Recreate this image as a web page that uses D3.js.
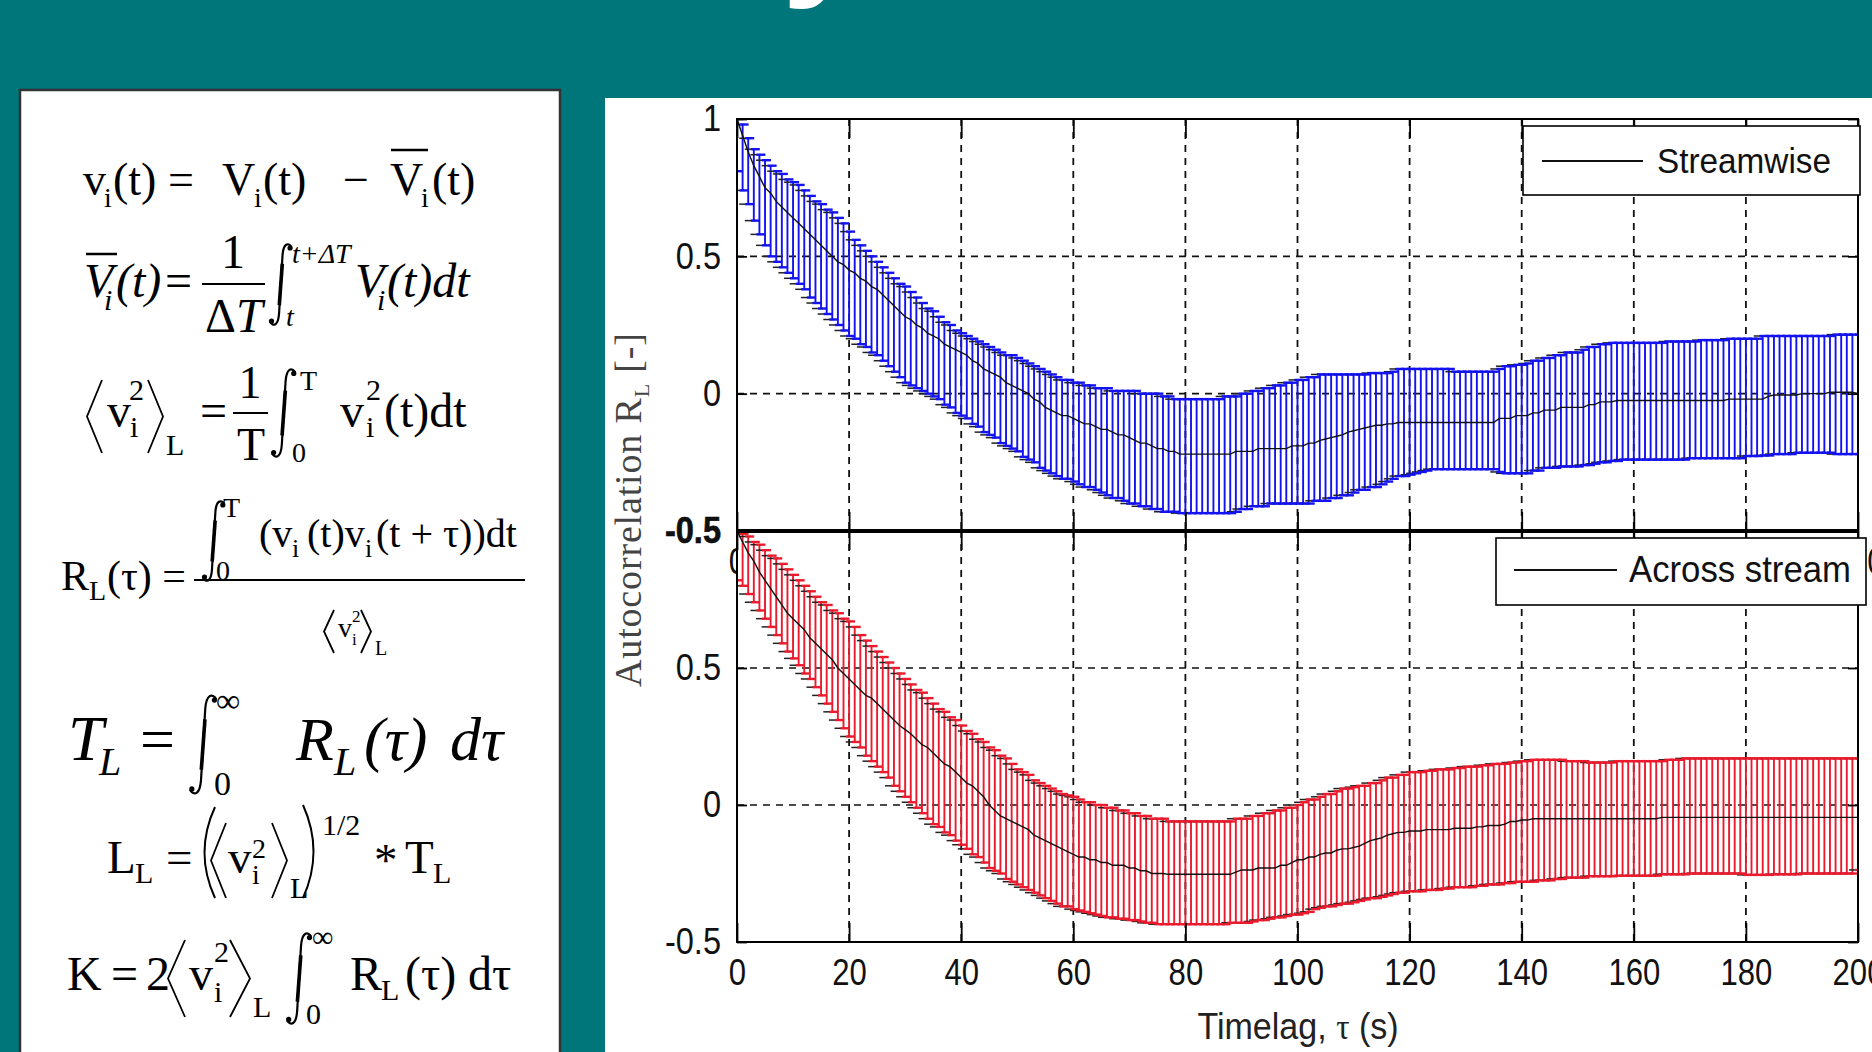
<!DOCTYPE html>
<html><head><meta charset="utf-8">
<script src="https://cdn.jsdelivr.net/npm/d3@7"></script>
<style>
html,body{margin:0;padding:0;background:#00767a;overflow:hidden}
svg{display:block}
</style></head><body>
<svg id="c" width="1872" height="1052"></svg>
<script>
// ---------------- DATA ----------------
const tau = d3.range(0, 201, 1); // time lag samples (s)
const xTicks = [0,20,40,60,80,100,120,140,160,180,200];
const yTicksTop = [-0.5,0,0.5,1];
const yTicksBottom = [-0.5,0,0.5];
const seriesNames = ["Streamwise","Across stream"];

const streamUpper = [1.00,0.98,0.93,0.89,0.87,0.85,0.83,0.81,0.80,0.78,
0.77,0.76,0.74,0.72,0.70,0.69,0.67,0.66,0.64,0.62,
0.59,0.56,0.54,0.52,0.50,0.48,0.46,0.44,0.42,0.40,
0.39,0.37,0.35,0.33,0.31,0.30,0.28,0.26,0.25,0.23,
0.22,0.21,0.20,0.19,0.18,0.17,0.16,0.15,0.14,0.14,
0.13,0.12,0.11,0.10,0.09,0.08,0.07,0.06,0.05,0.05,
0.04,0.04,0.03,0.03,0.02,0.02,0.02,0.01,0.01,0.01,
0.01,0.01,0.00,0.00,0.00,0.00,-0.01,-0.01,-0.02,-0.02,
-0.02,-0.02,-0.02,-0.02,-0.02,-0.02,-0.02,-0.01,-0.01,-0.01,
0.00,0.00,0.01,0.01,0.02,0.02,0.03,0.03,0.04,0.04,
0.05,0.05,0.06,0.06,0.07,0.07,0.07,0.07,0.07,0.07,
0.07,0.07,0.07,0.075,0.075,0.075,0.075,0.08,0.09,0.09,
0.09,0.09,0.09,0.09,0.09,0.09,0.09,0.09,0.08,0.08,
0.08,0.08,0.08,0.08,0.08,0.08,0.09,0.10,0.10,0.105,
0.105,0.11,0.12,0.12,0.13,0.13,0.14,0.14,0.15,0.15,
0.15,0.16,0.17,0.17,0.18,0.18,0.185,0.185,0.185,0.185,
0.185,0.185,0.185,0.185,0.185,0.185,0.19,0.19,0.19,0.19,
0.19,0.19,0.195,0.195,0.195,0.195,0.195,0.20,0.20,0.20,
0.20,0.20,0.20,0.21,0.21,0.21,0.21,0.21,0.21,0.21,
0.21,0.21,0.21,0.21,0.21,0.21,0.215,0.215,0.215,0.215,
0.215];

const streamMean = [1.00,0.94,0.88,0.83,0.79,0.75,0.73,0.70,0.68,0.66,
0.64,0.62,0.60,0.58,0.56,0.54,0.52,0.50,0.48,0.47,
0.45,0.44,0.42,0.41,0.39,0.38,0.36,0.34,0.32,0.30,
0.28,0.27,0.25,0.24,0.22,0.21,0.20,0.18,0.17,0.16,
0.15,0.14,0.12,0.11,0.09,0.08,0.07,0.06,0.04,0.03,
0.02,0.01,0.00,-0.02,-0.03,-0.05,-0.06,-0.07,-0.08,-0.08,
-0.09,-0.10,-0.11,-0.11,-0.12,-0.13,-0.13,-0.14,-0.15,-0.15,
-0.16,-0.17,-0.18,-0.18,-0.19,-0.20,-0.20,-0.21,-0.21,-0.22,
-0.22,-0.22,-0.22,-0.22,-0.22,-0.22,-0.22,-0.22,-0.22,-0.21,
-0.21,-0.21,-0.21,-0.20,-0.20,-0.20,-0.20,-0.20,-0.20,-0.19,
-0.19,-0.19,-0.18,-0.18,-0.17,-0.165,-0.16,-0.155,-0.15,-0.14,
-0.135,-0.13,-0.125,-0.12,-0.115,-0.115,-0.11,-0.11,-0.105,-0.105,
-0.105,-0.105,-0.105,-0.105,-0.105,-0.105,-0.105,-0.105,-0.105,-0.105,
-0.105,-0.105,-0.105,-0.105,-0.105,-0.105,-0.09,-0.09,-0.09,-0.08,
-0.08,-0.08,-0.07,-0.07,-0.06,-0.06,-0.06,-0.05,-0.05,-0.05,
-0.05,-0.05,-0.04,-0.04,-0.03,-0.03,-0.03,-0.025,-0.025,-0.025,
-0.025,-0.025,-0.025,-0.025,-0.025,-0.025,-0.025,-0.025,-0.025,-0.025,
-0.025,-0.025,-0.025,-0.025,-0.025,-0.025,-0.025,-0.02,-0.02,-0.02,
-0.02,-0.02,-0.02,-0.02,-0.01,-0.005,-0.005,-0.005,-0.005,-0.005,
0.00,0.00,0.00,0.00,0.00,0.005,0.005,0.005,0.005,0.005,
0.00];

const streamLower = [0.81,0.74,0.69,0.63,0.58,0.54,0.50,0.48,0.46,0.44,
0.42,0.40,0.38,0.35,0.33,0.31,0.29,0.27,0.25,0.23,
0.21,0.20,0.18,0.17,0.15,0.14,0.12,0.10,0.08,0.06,
0.04,0.03,0.02,0.01,0.00,-0.01,-0.02,-0.04,-0.05,-0.07,
-0.08,-0.09,-0.11,-0.12,-0.14,-0.15,-0.16,-0.18,-0.19,-0.20,
-0.21,-0.23,-0.24,-0.25,-0.27,-0.28,-0.29,-0.30,-0.31,-0.31,
-0.32,-0.33,-0.34,-0.34,-0.35,-0.36,-0.37,-0.38,-0.38,-0.39,
-0.40,-0.40,-0.41,-0.41,-0.42,-0.42,-0.43,-0.43,-0.43,-0.435,
-0.435,-0.435,-0.435,-0.435,-0.435,-0.435,-0.435,-0.435,-0.435,-0.43,
-0.42,-0.42,-0.41,-0.41,-0.41,-0.40,-0.40,-0.40,-0.40,-0.40,
-0.40,-0.40,-0.40,-0.39,-0.39,-0.39,-0.38,-0.38,-0.37,-0.37,
-0.36,-0.35,-0.35,-0.34,-0.34,-0.33,-0.32,-0.31,-0.30,-0.30,
-0.295,-0.29,-0.285,-0.28,-0.275,-0.275,-0.275,-0.275,-0.275,-0.275,
-0.275,-0.275,-0.275,-0.275,-0.275,-0.275,-0.285,-0.29,-0.29,-0.29,
-0.29,-0.29,-0.28,-0.28,-0.27,-0.27,-0.27,-0.265,-0.265,-0.265,
-0.265,-0.26,-0.26,-0.255,-0.25,-0.25,-0.245,-0.245,-0.24,-0.24,
-0.24,-0.24,-0.24,-0.24,-0.24,-0.24,-0.24,-0.24,-0.24,-0.24,
-0.235,-0.235,-0.235,-0.235,-0.235,-0.235,-0.235,-0.235,-0.235,-0.235,
-0.227,-0.227,-0.227,-0.225,-0.225,-0.22,-0.22,-0.22,-0.22,-0.215,
-0.215,-0.215,-0.215,-0.215,-0.215,-0.215,-0.22,-0.22,-0.22,-0.22,
-0.22];

const acrossUpper = [1.00,0.99,0.98,0.96,0.95,0.93,0.91,0.90,0.88,0.86,
0.84,0.82,0.80,0.78,0.76,0.74,0.73,0.71,0.70,0.68,
0.67,0.65,0.62,0.60,0.58,0.56,0.54,0.52,0.50,0.48,
0.46,0.44,0.42,0.41,0.39,0.37,0.35,0.34,0.32,0.31,
0.29,0.27,0.26,0.24,0.23,0.21,0.20,0.18,0.17,0.15,
0.13,0.12,0.11,0.09,0.08,0.07,0.06,0.05,0.04,0.035,
0.03,0.02,0.01,0.01,0.00,0.00,-0.01,-0.01,-0.02,-0.02,
-0.03,-0.03,-0.04,-0.04,-0.05,-0.05,-0.05,-0.06,-0.06,-0.06,
-0.06,-0.06,-0.06,-0.06,-0.06,-0.06,-0.06,-0.06,-0.06,-0.05,
-0.05,-0.05,-0.04,-0.04,-0.03,-0.03,-0.02,-0.02,-0.01,-0.01,
0.00,0.01,0.02,0.02,0.03,0.04,0.04,0.05,0.06,0.06,
0.065,0.07,0.07,0.08,0.08,0.09,0.10,0.10,0.11,0.11,
0.12,0.12,0.12,0.125,0.125,0.13,0.13,0.13,0.135,0.135,
0.14,0.14,0.14,0.145,0.145,0.15,0.15,0.15,0.155,0.155,
0.16,0.16,0.165,0.165,0.165,0.165,0.165,0.165,0.16,0.16,
0.16,0.16,0.155,0.155,0.155,0.155,0.155,0.16,0.16,0.16,
0.16,0.16,0.16,0.16,0.16,0.16,0.165,0.165,0.165,0.17,
0.17,0.17,0.17,0.17,0.17,0.17,0.17,0.17,0.17,0.17,
0.17,0.17,0.17,0.17,0.17,0.17,0.17,0.17,0.17,0.17,
0.17,0.17,0.17,0.17,0.17,0.17,0.17,0.17,0.17,0.17,
0.17];

const acrossMean = [1.00,0.96,0.92,0.89,0.85,0.82,0.79,0.76,0.73,0.70,
0.68,0.66,0.64,0.61,0.59,0.57,0.55,0.53,0.50,0.48,
0.46,0.44,0.42,0.40,0.39,0.37,0.35,0.33,0.31,0.29,
0.275,0.26,0.24,0.22,0.21,0.19,0.17,0.15,0.14,0.12,
0.10,0.08,0.07,0.05,0.03,0.00,-0.02,-0.04,-0.05,-0.06,
-0.07,-0.08,-0.09,-0.11,-0.12,-0.13,-0.14,-0.15,-0.16,-0.17,
-0.18,-0.19,-0.19,-0.20,-0.20,-0.21,-0.21,-0.22,-0.22,-0.22,
-0.23,-0.23,-0.24,-0.24,-0.25,-0.25,-0.25,-0.253,-0.253,-0.253,
-0.253,-0.253,-0.253,-0.253,-0.253,-0.253,-0.253,-0.253,-0.253,-0.245,
-0.237,-0.237,-0.237,-0.23,-0.23,-0.23,-0.23,-0.22,-0.22,-0.21,
-0.20,-0.20,-0.19,-0.19,-0.18,-0.175,-0.175,-0.165,-0.16,-0.16,
-0.155,-0.15,-0.14,-0.13,-0.125,-0.12,-0.11,-0.105,-0.10,-0.10,
-0.095,-0.095,-0.095,-0.09,-0.09,-0.09,-0.09,-0.09,-0.085,-0.085,
-0.085,-0.085,-0.08,-0.08,-0.075,-0.075,-0.075,-0.07,-0.06,-0.06,
-0.055,-0.055,-0.05,-0.05,-0.05,-0.05,-0.05,-0.05,-0.05,-0.05,
-0.05,-0.05,-0.05,-0.05,-0.05,-0.05,-0.05,-0.05,-0.05,-0.05,
-0.05,-0.05,-0.05,-0.05,-0.05,-0.045,-0.045,-0.045,-0.045,-0.045,
-0.045,-0.045,-0.045,-0.045,-0.045,-0.045,-0.045,-0.045,-0.045,-0.045,
-0.045,-0.045,-0.045,-0.045,-0.045,-0.045,-0.045,-0.045,-0.045,-0.045,
-0.045,-0.045,-0.045,-0.045,-0.045,-0.045,-0.045,-0.045,-0.045,-0.045,
-0.045];

const acrossLower = [0.82,0.80,0.77,0.74,0.71,0.68,0.65,0.62,0.59,0.56,
0.535,0.51,0.48,0.46,0.43,0.40,0.37,0.34,0.31,0.28,
0.25,0.23,0.21,0.18,0.16,0.14,0.12,0.10,0.07,0.05,
0.03,0.01,-0.01,-0.03,-0.05,-0.07,-0.08,-0.10,-0.11,-0.13,
-0.145,-0.16,-0.18,-0.19,-0.21,-0.23,-0.24,-0.25,-0.27,-0.28,
-0.29,-0.30,-0.31,-0.32,-0.33,-0.34,-0.35,-0.36,-0.37,-0.37,
-0.38,-0.385,-0.39,-0.395,-0.40,-0.405,-0.41,-0.41,-0.415,-0.415,
-0.42,-0.42,-0.425,-0.43,-0.43,-0.435,-0.435,-0.435,-0.435,-0.435,
-0.435,-0.435,-0.435,-0.435,-0.435,-0.435,-0.435,-0.435,-0.43,-0.43,
-0.43,-0.43,-0.425,-0.42,-0.42,-0.415,-0.41,-0.41,-0.405,-0.40,
-0.40,-0.395,-0.39,-0.38,-0.375,-0.37,-0.37,-0.365,-0.36,-0.36,
-0.355,-0.35,-0.345,-0.34,-0.34,-0.335,-0.33,-0.325,-0.32,-0.32,
-0.315,-0.315,-0.315,-0.31,-0.31,-0.31,-0.305,-0.305,-0.30,-0.30,
-0.30,-0.30,-0.295,-0.295,-0.29,-0.29,-0.29,-0.285,-0.285,-0.28,
-0.28,-0.28,-0.28,-0.275,-0.275,-0.275,-0.27,-0.27,-0.265,-0.265,
-0.265,-0.265,-0.26,-0.26,-0.26,-0.26,-0.26,-0.258,-0.258,-0.258,
-0.258,-0.258,-0.258,-0.258,-0.258,-0.253,-0.253,-0.253,-0.253,-0.253,
-0.25,-0.25,-0.25,-0.25,-0.25,-0.25,-0.25,-0.25,-0.25,-0.25,
-0.255,-0.255,-0.255,-0.255,-0.255,-0.253,-0.253,-0.253,-0.253,-0.253,
-0.25,-0.25,-0.25,-0.25,-0.25,-0.25,-0.25,-0.25,-0.25,-0.25,
-0.237];

// ---------------- DRAWING ----------------
const W = 1872, H = 1052;
const svg = d3.select("#c");
const SANS_N = "'Liberation Sans Narrow','Arial Narrow','Liberation Sans',Arial,sans-serif";
const SERIF = "'Liberation Serif','Times New Roman',serif";
function squeeze(sel, f) {
  sel.each(function () {
    const L = this.getComputedTextLength();
    d3.select(this).attr("textLength", L * f).attr("lengthAdjust", "spacingAndGlyphs");
  });
}

svg.append("rect").attr("width", W).attr("height", H).attr("fill", "#00767a");

// fragment of slide title (descender visible at top)
svg.append("text").attr("x", 782).attr("y", -22)
  .attr("font-family", "'Liberation Sans',Arial,sans-serif").attr("font-weight", "bold")
  .attr("font-size", 150).attr("fill", "#fff").text("y");

// ---------- formula box ----------
svg.append("rect").attr("x", 20).attr("y", 90).attr("width", 540).attr("height", 1000)
  .attr("fill", "#fff").attr("stroke", "#333").attr("stroke-width", 2.5);

const F = svg.append("g").attr("fill", "#000").attr("font-family", SERIF);
function t(str, x, y, size, opts = {}) {
  const e = F.append("text").attr("x", x).attr("y", y).attr("font-size", size).text(str);
  if (opts.italic) e.attr("font-style", "italic");
  if (opts.anchor) e.attr("text-anchor", opts.anchor);
  return e;
}
function seg(x1, y1, x2, y2, w) {
  F.append("line").attr("x1", x1).attr("y1", y1).attr("x2", x2).attr("y2", y2)
    .attr("stroke", "#000").attr("stroke-width", w || 2);
}
function ang(dir, x1, x2, yt, yb) {
  const ym = (yt + yb) / 2;
  const p = dir === "l" ? `M${x2},${yt}L${x1},${ym}L${x2},${yb}` : `M${x1},${yt}L${x2},${ym}L${x1},${yb}`;
  F.append("path").attr("d", p).attr("fill", "none").attr("stroke", "#000").attr("stroke-width", 1.8);
}
function paren(dir, x1, x2, yt, yb) {
  const ym = (yt + yb) / 2;
  const p = dir === "l" ? `M${x2},${yt}Q${x1 - 6},${ym} ${x2},${yb}` : `M${x1},${yt}Q${x2 + 6},${ym} ${x1},${yb}`;
  F.append("path").attr("d", p).attr("fill", "none").attr("stroke", "#000").attr("stroke-width", 2);
}
function integ(x, yt, yb) {
  const h = yb - yt, w = h * 0.26;
  const p = `M${x + w},${yt + 0.05 * h} C${x + w * 0.85},${yt - 0.01 * h} ${x + w * 0.62},${yt} ${x + w * 0.58},${yt + 0.15 * h}` +
            ` L${x + w * 0.42},${yb - 0.15 * h} C${x + w * 0.38},${yb} ${x + w * 0.15},${yb + 0.01 * h} ${x},${yb - 0.05 * h}`;
  F.append("path").attr("d", p).attr("fill", "none").attr("stroke", "#000").attr("stroke-width", 2.2);
  F.append("line").attr("x1", x + w * 0.57).attr("y1", yt + 0.25 * h).attr("x2", x + w * 0.43).attr("y2", yb - 0.25 * h)
    .attr("stroke", "#000").attr("stroke-width", 3.6);
  F.append("circle").attr("cx", x + w * 0.93).attr("cy", yt + 0.06 * h).attr("r", 2.6);
  F.append("circle").attr("cx", x + w * 0.07).attr("cy", yb - 0.06 * h).attr("r", 2.6);
}

// line 1: v_i(t) = V_i(t) − V̄_i(t)
t("v", 83, 195, 46); t("i", 104, 207, 28); t("(t) =", 113, 195, 46);
t("V", 222, 195, 46); t("i", 254, 207, 28); t("(t)", 263, 195, 46);
t("\u2212", 343, 195, 46);
t("V", 390, 195, 46); seg(391, 150, 428, 150, 2.5); t("i", 421, 207, 28); t("(t)", 432, 195, 46);

// line 2
seg(86, 254, 117, 254, 2.5);
t("V", 84, 297, 48, {italic: true}); t("i", 104, 310, 30, {italic: true}); t("(t)", 116, 297, 48, {italic: true});
t("=", 165, 297, 48);
t("1", 233, 268, 48, {anchor: "middle"}); seg(202, 284, 265, 284, 2);
const dT = t("\u0394", 205, 332, 48); dT.append("tspan").attr("font-style", "italic").text("T");
integ(270, 243, 326);
const ul = t("t", 292, 263, 28, {italic: true}); ul.append("tspan").text("+\u0394"); ul.append("tspan").attr("font-style", "italic").text("T");
t("t", 286, 326, 28, {italic: true});
t("V", 355, 297, 48, {italic: true}); t("i", 377, 310, 30, {italic: true}); t("(t)dt", 387, 297, 48, {italic: true});

// line 3
ang("l", 87, 102, 380, 453);
t("v", 107, 427, 48); t("2", 129, 400, 30); t("i", 130, 437, 30);
ang("r", 148, 163, 380, 453);
t("L", 166, 455, 30);
t("=", 200, 427, 48);
t("1", 250, 398, 46, {anchor: "middle"}); seg(233, 413, 268, 413, 2); t("T", 251, 460, 46, {anchor: "middle"});
integ(272, 368, 458);
t("T", 300, 390, 28); t("0", 292, 462, 28);
t("v", 340, 427, 48); t("2", 366, 400, 30); t("i", 366, 437, 30); t("(t)dt", 384, 427, 48);

// line 4
integ(203, 500, 582);
t("T", 223, 517, 28); t("0", 216, 580, 28);
t("(v", 259, 547, 40); t("i", 292, 557, 26); t("(t)v", 307, 547, 40); t("i", 365, 557, 26); t("(t + \u03c4))dt", 376, 547, 40);
seg(194, 580, 525, 580, 2);
t("R", 61, 590, 42); t("L", 89, 600, 28); t("(\u03c4) =", 107, 590, 42);
ang("l", 324, 334, 610, 653);
t("v", 338, 637, 28); t("2", 352, 622, 17); t("i", 352, 645, 17);
ang("r", 361, 371, 610, 653);
t("L", 375, 655, 20);

// line 5
t("T", 68, 760, 64, {italic: true}); t("L", 99, 775, 40, {italic: true});
t("=", 140, 760, 62);
integ(190, 694, 795);
t("\u221e", 216, 712, 34); t("0", 214, 795, 34);
t("R", 296, 760, 62, {italic: true}); t("L", 334, 775, 40, {italic: true});
t("(\u03c4)", 364, 760, 62, {italic: true});
t("d\u03c4", 450, 760, 62, {italic: true});

// line 6
t("L", 107, 873, 47); t("L", 135, 883, 30);
t("=", 166, 873, 47);
paren("l", 200, 215, 807, 898);
ang("l", 211, 226, 823, 898);
t("v", 228, 873, 47); t("2", 252, 858, 28); t("i", 252, 884, 28);
ang("r", 272, 287, 823, 898);
t("L", 290, 898, 30);
paren("r", 303, 318, 805, 898);
t("1/2", 322, 835, 30);
t("*", 374, 876, 47);
t("T", 405, 873, 47); t("L", 433, 883, 30);

// line 7
t("K", 67, 990, 48);
t("=", 111, 990, 48);
t("2", 146, 990, 48);
ang("l", 168, 185, 940, 1017);
t("v", 189, 990, 48); t("2", 214, 962, 30); t("i", 214, 1002, 30);
ang("r", 230, 250, 940, 1017);
t("L", 253, 1017, 30);
integ(287, 932, 1025);
t("\u221e", 312, 947, 30); t("0", 306, 1024, 30);
t("R", 350, 990, 48); t("L", 381, 1000, 30);
t("(\u03c4)", 405, 990, 48);
t("d\u03c4", 468, 990, 48);

// ---------- chart panel ----------
svg.append("rect").attr("x", 605).attr("y", 98).attr("width", W - 605).attr("height", H - 98).attr("fill", "#fff");

const x = d3.scaleLinear().domain([0, 200]).range([737, 1858]);

function panel(cfg) {
  const y = d3.scaleLinear().domain([-0.5, 1]).range([cfg.bottom, cfg.top]);
  const g = svg.append("g");
  g.append("rect").attr("x", x(0)).attr("y", cfg.top).attr("width", x(200) - x(0))
    .attr("height", cfg.bottom - cfg.top).attr("fill", "#fff");
  // grid
  g.selectAll(null).data(xTicks.slice(1, -1)).join("line")
    .attr("x1", d => x(d)).attr("x2", d => x(d)).attr("y1", cfg.top).attr("y2", cfg.bottom)
    .attr("stroke", "#111").attr("stroke-width", 1.8).attr("stroke-dasharray", "7,6");
  g.selectAll(null).data([0, 0.5]).join("line")
    .attr("x1", x(0)).attr("x2", x(200)).attr("y1", d => y(d)).attr("y2", d => y(d))
    .attr("stroke", "#111").attr("stroke-width", 1.6).attr("stroke-dasharray", "7,6");

  const clipId = "clip" + cfg.id;
  g.append("clipPath").attr("id", clipId).append("rect")
    .attr("x", x(0)).attr("y", cfg.top).attr("width", x(200) - x(0)).attr("height", cfg.bottom - cfg.top);
  const eb = g.append("g").attr("clip-path", `url(#${clipId})`);
  const idx = d3.range(tau.length);
  eb.selectAll(null).data(idx).join("line")
    .attr("x1", i => x(tau[i])).attr("x2", i => x(tau[i]))
    .attr("y1", i => y(cfg.lower[i])).attr("y2", i => y(cfg.upper[i]))
    .attr("stroke", cfg.color).attr("stroke-width", 1.9);
  // caps: dark underlay + colored
  ["upper", "lower"].forEach(k => {
    eb.selectAll(null).data(idx).join("line")
      .attr("x1", i => x(tau[i]) - 9).attr("x2", i => x(tau[i]) + 2)
      .attr("y1", i => y(cfg[k][i])).attr("y2", i => y(cfg[k][i]))
      .attr("stroke", "#222").attr("stroke-width", 1.5);
    eb.selectAll(null).data(idx).join("line")
      .attr("x1", i => x(tau[i]) - 3).attr("x2", i => x(tau[i]) + 6)
      .attr("y1", i => y(cfg[k][i])).attr("y2", i => y(cfg[k][i]))
      .attr("stroke", cfg.color).attr("stroke-width", 2.4);
  });
  eb.append("path").datum(idx)
    .attr("d", d3.line().x(i => x(tau[i])).y(i => y(cfg.mean[i])))
    .attr("fill", "none").attr("stroke", "#111").attr("stroke-width", 1.4);

  // axes
  const styleAxis = (a) => {
    a.select(".domain").remove();
    a.selectAll(".tick line").attr("stroke", "#000").attr("stroke-width", 1.8);
    a.selectAll(".tick text").attr("fill", "#111").attr("font-family", SANS_N).attr("font-size", 37);
  };
  const ab = g.append("g").attr("transform", `translate(0,${cfg.bottom})`)
    .call(d3.axisBottom(x).tickValues(xTicks).tickSize(-19).tickSizeOuter(0).tickPadding(17).tickFormat(d3.format("d")));
  styleAxis(ab); squeeze(ab.selectAll(".tick text"), 0.84);
  const at = g.append("g").attr("transform", `translate(0,${cfg.top})`)
    .call(d3.axisTop(x).tickValues(xTicks).tickSize(-19).tickSizeOuter(0).tickFormat(""));
  styleAxis(at);
  const al = g.append("g").attr("transform", `translate(${x(0)},0)`)
    .call(d3.axisLeft(y).tickValues(cfg.yTicks).tickSize(-10).tickSizeOuter(0).tickPadding(16).tickFormat(d => String(d)));
  styleAxis(al);
  al.selectAll(".tick text").filter(d => d === -0.5 && cfg.boldBottom)
    .attr("font-weight", "bold").attr("stroke", "#000").attr("stroke-width", 0.6);
  squeeze(al.selectAll(".tick text"), 0.88);
  const ar = g.append("g").attr("transform", `translate(${x(200)},0)`)
    .call(d3.axisRight(y).tickValues(cfg.yTicks).tickSize(-10).tickSizeOuter(0).tickFormat(""));
  styleAxis(ar);
  g.append("rect").attr("x", x(0)).attr("y", cfg.top).attr("width", x(200) - x(0))
    .attr("height", cfg.bottom - cfg.top).attr("fill", "none").attr("stroke", "#000").attr("stroke-width", 2);

  // legend
  const L = cfg.legend;
  g.append("rect").attr("x", L.x).attr("y", L.y).attr("width", L.w).attr("height", L.h)
    .attr("fill", "#fff").attr("stroke", "#000").attr("stroke-width", 1.6);
  g.append("line").attr("x1", L.lx1).attr("x2", L.lx2).attr("y1", L.ly).attr("y2", L.ly)
    .attr("stroke", "#111").attr("stroke-width", 1.8);
  g.append("text").attr("x", L.tx).attr("y", L.ty).attr("font-family", SANS_N)
    .attr("font-size", L.fs).attr("fill", "#111").attr("textLength", L.tl).attr("lengthAdjust", "spacingAndGlyphs")
    .text(cfg.name);
  return {g, y};
}

panel({id: "top", top: 119, bottom: 531, mean: streamMean, upper: streamUpper, lower: streamLower,
  color: "#1212f2", name: seriesNames[0], yTicks: yTicksTop, boldBottom: true,
  legend: {x: 1523, y: 126, w: 337, h: 69, lx1: 1542, lx2: 1643, ly: 161, tx: 1657, ty: 173, fs: 35, tl: 174}});
panel({id: "bot", top: 531, bottom: 942, mean: acrossMean, upper: acrossUpper, lower: acrossLower,
  color: "#ec1a2c", name: seriesNames[1], yTicks: yTicksBottom, boldBottom: false,
  legend: {x: 1496, y: 538, w: 370, h: 67, lx1: 1514, lx2: 1617, ly: 570, tx: 1629, ty: 582, fs: 37, tl: 222}});
// shared heavy divider
svg.append("line").attr("x1", x(0) - 1).attr("x2", x(200) + 1).attr("y1", 531).attr("y2", 531)
  .attr("stroke", "#000").attr("stroke-width", 4);

// axis titles
const xl = svg.append("text").attr("x", 1298).attr("y", 1039).attr("text-anchor", "middle")
  .attr("font-family", SANS_N).attr("font-size", 37).attr("fill", "#222");
xl.append("tspan").text("Timelag, ");
xl.append("tspan").attr("font-family", SERIF).attr("font-size", 36).text("\u03c4");
xl.append("tspan").text(" (s)");
squeeze(xl, 0.92);

const yl = svg.append("text").attr("transform", "translate(641,510) rotate(-90)").attr("text-anchor", "middle")
  .attr("font-family", SERIF).attr("font-size", 38).attr("fill", "#444")
  .attr("textLength", 354).attr("lengthAdjust", "spacing");
yl.append("tspan").text("Autocorrelation R");
yl.append("tspan").attr("font-size", 22).attr("dy", 8).text("L");
yl.append("tspan").attr("dy", -8).text(" [-]");
</script>
</body></html>
